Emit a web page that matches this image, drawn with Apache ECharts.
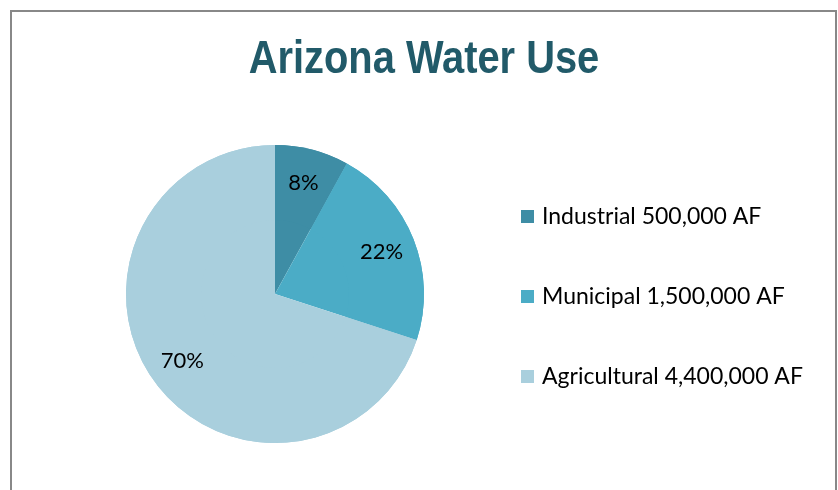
<!DOCTYPE html>
<html>
<head>
<meta charset="utf-8">
<script src="https://cdn.jsdelivr.net/npm/echarts@6/dist/echarts.min.js"></script>
<style>
  html, body { margin: 0; padding: 0; background: #fff; }
  #chart { width: 838px; height: 490px; }
</style>
</head>
<body>
<div id="chart"></div>
<script>
// 用水类别及图例文字
const categories = ["Industrial", "Municipal", "Agricultural"];
const legendNames = ["Industrial 500,000 AF", "Municipal 1,500,000 AF", "Agricultural 4,400,000 AF"];
// 百分比（图上标注）
const shares = [8, 22, 70];
const colors = ["#3E8DA5", "#4BACC6", "#A9CFDD"];
const titleText = "Arizona Water Use";

const chart = echarts.init(document.getElementById("chart"));

const pieData = legendNames.map(function (name, i) {
  return { name: name, value: shares[i], itemStyle: { color: colors[i] } };
});

const options = {
  animation: false,
  legend: {
    orient: "vertical",
    left: 516,
    top: 198,
    itemWidth: 13,
    itemHeight: 13,
    itemGap: 53,
    icon: "rect",
    data: legendNames,
    textStyle: {
      fontFamily: "Lato",
      fontSize: 23,
      lineHeight: 27,
      color: "#000",
      padding: [0, 0, 0, 3],
    },
  },
  graphic: [
    {
      type: "rect",
      shape: { x: 11, y: 11, width: 825, height: 490 },
      style: { fill: "none", stroke: "#888", lineWidth: 2 },
      silent: true,
    },
    {
      // 标题：窄体效果
      type: "text",
      x: 424,
      y: 60,
      scaleX: 0.866,
      silent: true,
      style: {
        text: titleText,
        textAlign: "center",
        textVerticalAlign: "middle",
        fontFamily: "'Liberation Sans', Arial, sans-serif",
        fontWeight: "bold",
        fontSize: 46,
        fill: "#215A69",
      },
    },
  ],
  series: [
    {
      // 整个饼
      type: "pie",
      center: [275, 294],
      radius: [0, 149],
      startAngle: 90,
      clockwise: true,
      silent: true,
      label: { show: false },
      labelLine: { show: false },
      data: pieData,
    },
    {
      // 只用来放百分比标签（同色覆盖）
      type: "pie",
      center: [275, 294],
      radius: [74, 149],
      startAngle: 90,
      clockwise: true,
      silent: true,
      label: {
        show: true,
        position: "inside",
        formatter: "{c}%",
        fontFamily: "Lato",
        fontSize: 22,
        color: "#000",
      },
      labelLine: { show: false },
      data: pieData,
    },
  ],
};
chart.setOption(options);
</script>
</body>
</html>
